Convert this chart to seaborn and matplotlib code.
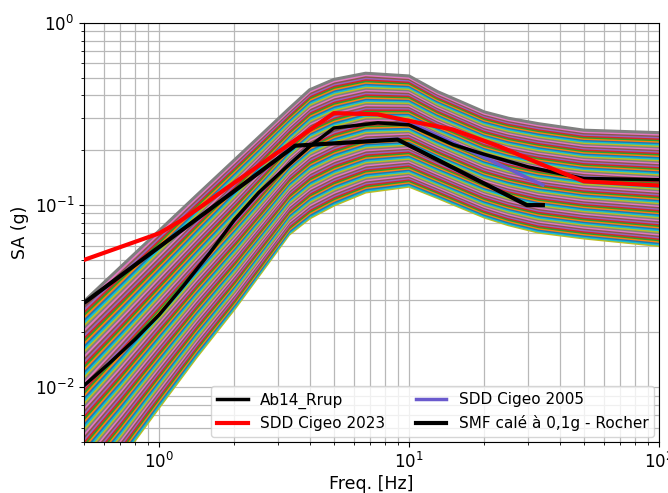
import numpy as np
import pandas as pd
import matplotlib
matplotlib.use("Agg")
import matplotlib.pyplot as plt
import seaborn as sns

# family of spectra: envelope, band filled with n_curves lines
freq_family = [0.5, 0.7, 1.0, 1.4, 2.0, 2.5, 3.3, 4.0, 5.0, 6.7, 10, 13, 20, 25, 33, 50, 100]
env_top = [0.0296, 0.0457, 0.0724, 0.112, 0.177, 0.236, 0.338, 0.43, 0.49, 0.53, 0.512,
           0.42, 0.325, 0.30, 0.28, 0.258, 0.25]
env_bottom = [0.0022, 0.0040, 0.0078, 0.0145, 0.027, 0.041, 0.069, 0.085, 0.10, 0.118, 0.127,
              0.11, 0.086, 0.078, 0.071, 0.066, 0.060]
n_curves = 80

# reference spectra
ab14_freq = [0.5, 0.63, 0.8, 1.0, 1.25, 1.6, 2.0, 2.5, 3.2, 4.0, 5.0, 7.5, 10, 15, 20, 30, 50, 100]
ab14_sa = [0.0102, 0.0135, 0.0183, 0.025, 0.036, 0.055, 0.083, 0.117, 0.16, 0.21, 0.265, 0.283,
           0.276, 0.215, 0.19, 0.162, 0.14, 0.138]

sdd2023_freq = [0.5, 1.0, 1.2, 1.5, 1.8, 5.0, 7.5, 10, 15, 23, 33, 50, 100]
sdd2023_sa = [0.05, 0.07, 0.081, 0.1, 0.12, 0.32, 0.315, 0.29, 0.26, 0.21, 0.17, 0.135, 0.128]

sdd2005_freq = [1.2, 1.5, 1.8, 5.0, 7.5, 10, 34.3]
sdd2005_sa = [0.081, 0.1, 0.12, 0.32, 0.315, 0.285, 0.129]

smf_freq = [0.5, 3.5, 9.0, 29.6, 34.3]
smf_sa = [0.029, 0.212, 0.229, 0.10, 0.10]

# build long table for the family
lo = np.log10(env_bottom)
hi = np.log10(env_top)
rows = []
for k in range(n_curves):
    t = k / (n_curves - 1)
    sa = 10 ** ((1 - t) * lo + t * hi)
    for f, v in zip(freq_family, sa):
        rows.append({"curve": f"c{k}", "freq": f, "sa": v})
df = pd.DataFrame(rows)

tab = sns.color_palette("tab10")
colors = [tab[(k + 8) % 10] for k in range(n_curves)]

fig = plt.figure(figsize=(6.68, 4.93), dpi=100)
ax = fig.add_axes([0.1257, 0.1034, 0.8608, 0.8499])
ax.set_axisbelow(True)

sns.lineplot(data=df, x="freq", y="sa", hue="curve", palette=colors, legend=False,
             linewidth=2.2, ax=ax, estimator=None, zorder=2)

h2005, = ax.plot(sdd2005_freq, sdd2005_sa, color="slateblue", lw=2.5, label="SDD Cigeo 2005", zorder=3)
hab, = ax.plot(ab14_freq, ab14_sa, color="black", lw=2.5, label="Ab14_Rrup", zorder=3)
h2023, = ax.plot(sdd2023_freq, sdd2023_sa, color="red", lw=3, label="SDD Cigeo 2023", zorder=3)
hsmf, = ax.plot(smf_freq, smf_sa, color="black", lw=3, label="SMF calé à 0,1g - Rocher", zorder=3)

ax.set_xscale("log")
ax.set_yscale("log")
ax.set_xlim(0.5, 100)
ax.set_ylim(0.005, 1)
ax.grid(True, which="both", color="#b8b8b8", lw=0.9, zorder=0)
ax.tick_params(labelsize=12)
ax.set_xlabel("Freq. [Hz]", fontsize=12.5, labelpad=2)
ax.set_ylabel("SA (g)", fontsize=12.5)

ax.legend(handles=[hab, h2023, h2005, hsmf], loc="lower right", ncol=2, fontsize=11,
          borderaxespad=0.3)

fig.savefig("out.png", dpi=100)
